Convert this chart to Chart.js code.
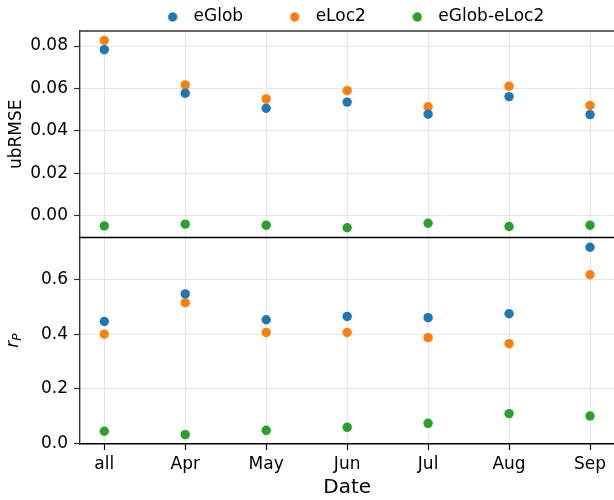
<!DOCTYPE html>
<html>
<head>
<meta charset="utf-8">
<script src="https://cdn.jsdelivr.net/npm/chart.js@4/dist/chart.umd.min.js"></script>
<style>
  html, body { margin: 0; padding: 0; overflow: hidden; background: #fff; width: 614px; height: 500px; }
  canvas { display: block; }
</style>
</head>
<body>
<canvas id="c" width="619" height="500"></canvas>
<script>
// ---- data ----
const categories = ['all', 'Apr', 'May', 'Jun', 'Jul', 'Aug', 'Sep'];
const seriesNames = ['eGlob', 'eLoc2', 'eGlob-eLoc2'];
const colors = ['#1f77b4', '#ff7f0e', '#2ca02c'];

const ubrmseGlob = [0.0783, 0.0578, 0.0507, 0.0536, 0.0479, 0.0562, 0.0477];
const ubrmseLoc2 = [0.0827, 0.0617, 0.0551, 0.0590, 0.0514, 0.0611, 0.0520];
const ubrmseDiff = [-0.0047, -0.0039, -0.0044, -0.0056, -0.0035, -0.0050, -0.0044];

const rpGlob = [0.446, 0.547, 0.4525, 0.4646, 0.460, 0.4745, 0.7175];
const rpLoc2 = [0.400, 0.5146, 0.406, 0.406, 0.387, 0.365, 0.6168];
const rpDiff = [0.0449, 0.0328, 0.0485, 0.0595, 0.0741, 0.1095, 0.1007];

const ubrmseTicks = [0.00, 0.02, 0.04, 0.06, 0.08];
const ubrmseTickLabels = ['0.00', '0.02', '0.04', '0.06', '0.08'];
const rpTicks = [0.0, 0.2, 0.4, 0.6];
const rpTickLabels = ['0.0', '0.2', '0.4', '0.6'];

// ---- helpers ----
const FONT = 'DejaVu Sans';
function pts(values) { return values.map((v, i) => ({ x: i, y: v })); }
function dot(color) {
  const c = document.createElement('canvas');
  c.width = 10; c.height = 10;
  const g = c.getContext('2d');
  g.fillStyle = color;
  g.beginPath(); g.arc(5, 5, 4.7, 0, Math.PI * 2); g.fill();
  return c;
}
function ds(label, data, color, axis) {
  return {
    label, data: pts(data), yAxisID: axis,
    backgroundColor: color, borderColor: color,
    pointRadius: 4.7, pointHoverRadius: 4.7, borderWidth: 0, showLine: false
  };
}

const datasets = [
  ds(seriesNames[0], ubrmseGlob, colors[0], 'yTop'),
  ds(seriesNames[1], ubrmseLoc2, colors[1], 'yTop'),
  ds(seriesNames[2], ubrmseDiff, colors[2], 'yTop'),
  ds(seriesNames[0], rpGlob, colors[0], 'yBot'),
  ds(seriesNames[1], rpLoc2, colors[1], 'yBot'),
  ds(seriesNames[2], rpDiff, colors[2], 'yBot')
];

const GRID = '#e6e6e6';
const SPINE = '#333333';

const framePlugin = {
  id: 'frame',
  afterLayout(chart) {
    if (chart.legend) { chart.legend.left += 5; chart.legend.right += 5; }
  },
  afterDatasetsDraw(chart) {
    const ctx = chart.ctx;
    const a = chart.chartArea;
    const yt = chart.scales.yTop, yb = chart.scales.yBot;
    ctx.save();
    ctx.lineWidth = 1.4;
    ctx.strokeStyle = SPINE;
    ctx.beginPath(); ctx.moveTo(a.left - 0.7, yt.top); ctx.lineTo(a.right, yt.top); ctx.stroke();
    ctx.strokeStyle = '#000';
    ctx.beginPath(); ctx.moveTo(a.left - 0.7, yt.bottom); ctx.lineTo(a.right, yt.bottom); ctx.stroke();
    // r_P axis title
    ctx.translate(14, (yb.top + yb.bottom) / 2);
    ctx.rotate(-Math.PI / 2);
    ctx.fillStyle = '#000';
    ctx.textBaseline = 'middle';
    ctx.textAlign = 'left';
    ctx.font = 'italic 17px "' + FONT + '"';
    const rw = ctx.measureText('r').width;
    ctx.font = 'italic 12px "' + FONT + '"';
    const pw = ctx.measureText('P').width;
    const x0 = -(rw + pw) / 2;
    ctx.font = 'italic 17px "' + FONT + '"';
    ctx.fillText('r', x0, 0);
    ctx.font = 'italic 12px "' + FONT + '"';
    ctx.fillText('P', x0 + rw, 4);
    ctx.restore();
  }
};

const yCommon = {
  type: 'linear', position: 'left', stack: 'panels', stackWeight: 1,
  grid: { color: GRID, lineWidth: 1, tickColor: SPINE, tickLength: 6, tickWidth: 1.2 },
  border: { display: true, color: SPINE, width: 1.4 },
  afterFit(s) { s.width = 80; }
};

new Chart(document.getElementById('c'), {
  type: 'scatter',
  data: { datasets },
  plugins: [framePlugin],
  options: {
    responsive: false,
    animation: false,
    events: [],
    layout: { padding: { top: -30.5, left: 0, right: 0, bottom: 0 } },
    plugins: {
      tooltip: { enabled: false },
      legend: {
        display: true,
        position: 'top',
        align: 'center',
        fullSize: false,
        maxHeight: 61.5,
        labels: {
          usePointStyle: true,
          pointStyleWidth: 25,
          padding: 39,
          color: '#000',
          font: { family: FONT, size: 17 },
          generateLabels(chart) {
            const items = Chart.defaults.plugins.legend.labels.generateLabels(chart).slice(0, 3);
            items.forEach((it, i) => { it.pointStyle = dot(colors[i]); it.lineWidth = 0; });
            return items;
          }
        }
      }
    },
    scales: {
      x: {
        type: 'linear', position: 'bottom', min: -0.3, max: 6.3,
        afterBuildTicks(s) { s.ticks = categories.map((c, i) => ({ value: i })); },
        ticks: {
          color: '#000', padding: 4, font: { family: FONT, size: 17 },
          maxRotation: 0, autoSkip: false,
          callback: (v) => categories[v]
        },
        grid: { color: GRID, lineWidth: 1, tickColor: '#000', tickLength: 6, tickWidth: 1.2 },
        border: { display: true, color: '#000', width: 1.4 },
        title: { display: true, text: 'Date', color: '#000', font: { family: FONT, size: 20 }, padding: { top: 0, bottom: 0 } },
        afterFit(s) { s.height = 56; }
      },
      yBot: Object.assign({}, yCommon, {
        min: -0.0015, max: 0.753,
        afterBuildTicks(s) { s.ticks = rpTicks.map(v => ({ value: v })); },
        ticks: { color: '#000', padding: 6, font: { family: FONT, size: 17 },
          callback: (v) => rpTickLabels[rpTicks.findIndex(t => Math.abs(t - v) < 1e-9)] }
      }),
      yTop: Object.assign({}, yCommon, {
        min: -0.0102, max: 0.0871,
        afterBuildTicks(s) { s.ticks = ubrmseTicks.map(v => ({ value: v })); },
        ticks: { color: '#000', padding: 6, font: { family: FONT, size: 17 },
          callback: (v) => ubrmseTickLabels[ubrmseTicks.findIndex(t => Math.abs(t - v) < 1e-9)] },
        title: { display: true, text: 'ubRMSE', color: '#000', font: { family: FONT, size: 17 }, padding: { top: 6, bottom: 0 } }
      })
    }
  }
});
</script>
</body>
</html>
